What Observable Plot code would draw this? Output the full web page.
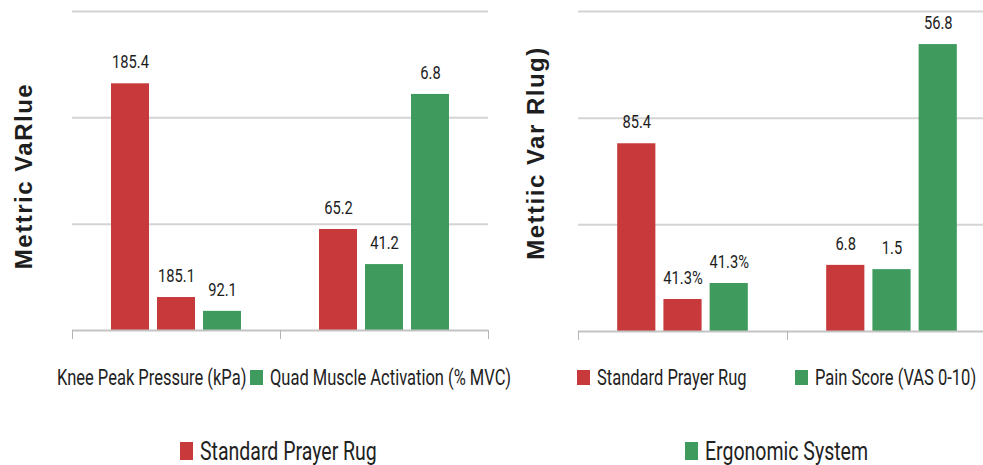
<!DOCTYPE html>
<html>
<head>
<meta charset="utf-8">
<script src="https://cdn.jsdelivr.net/npm/d3@7"></script>
<script src="https://cdn.jsdelivr.net/npm/@observablehq/plot@0.6"></script>
<style>
  html, body { margin: 0; padding: 0; background: #ffffff; overflow: hidden; }
  #root { position: relative; width: 983px; height: 465px; overflow: hidden; background: #ffffff; }
  .panel { position: absolute; top: 0; }
  .ytitle { position: absolute; font-family: "Liberation Sans", Arial, sans-serif; font-weight: bold;
            font-size: 24px; letter-spacing: 1.5px; color: #1e1e1e; white-space: nowrap;
            transform: translate(-50%, -50%) rotate(-90deg); }
  .leg { position: absolute; display: flex; align-items: center; white-space: nowrap;
         font-family: Roboto, "Liberation Sans", sans-serif; color: #222; }
  .sw { display: inline-block; margin-right: 7px; flex: none; }
  .lt { display: inline-block; transform: scaleX(0.75); transform-origin: left center; }
</style>
</head>
<body>
<div id="root"></div>
<script>
// ---- data ----
const series = ["Standard Prayer Rug", "Ergonomic System"];
const seriesColors = ["#c7393a", "#3e9a5d"];
const groupsLeft = ["Knee Peak Pressure (kPa)", "Quad Muscle Activation (% MVC)"];
const groupsRight = ["Standard Prayer Rug", "Pain Score (VAS 0-10)"];
const slots = [0, 1, 2];
const gridTicks = [100, 200, 300];

// left panel bars (heights, grid lines = 100, 200, 300)
const leftGroup  = [0, 0, 0, 1, 1, 1];
const leftSlot   = [0, 1, 2, 0, 1, 2];
const leftSeries = [0, 0, 1, 0, 1, 1];
const leftValues = [232, 31, 18, 95, 62, 222];
const leftLabels = ["185.4", "185.1", "92.1", "65.2", "41.2", "6.8"];

// right panel bars
const rightGroup  = [0, 0, 0, 1, 1, 1];
const rightSlot   = [0, 1, 2, 0, 1, 2];
const rightSeries = [0, 0, 1, 0, 1, 1];
const rightValues = [176, 30, 45, 62, 58, 269];
const rightLabels = ["85.4", "41.3%", "41.3%", "6.8", "1.5", "56.8"];

// titles and legends
const leftTitle = "Mettric VaRlue";
const rightTitle = "Mettiic Var Rlug)";
const legendRow1 = [
  {text: "Knee Peak Pressure (kPa)", color: null},
  {text: "Quad Muscle Activation (% MVC)", color: 1},
  {text: "Standard Prayer Rug", color: 0},
  {text: "Pain Score (VAS 0-10)", color: 1}
];
const legendRow2 = [
  {text: "Standard Prayer Rug", color: 0},
  {text: "Ergonomic System", color: 1}
];

// ---- layout/style ----
const labelFont = 'Roboto, "Liberation Sans", sans-serif';
const labelCondense = 0.84;
const padIn = 8 / 46, padOut = 0.848;

function rows(groupNames, g, s, ser, v, lab) {
  return v.map((val, i) => ({group: groupNames[g[i]], slot: s[i], series: series[ser[i]], value: val, label: lab[i]}));
}

function panel(groupNames, data, opts) {
  const facetW = (opts.width - opts.marginLeft - opts.marginRight) / groupNames.length;
  const step = facetW / (slots.length - padIn + 2 * padOut);
  const edgeOffset = padOut * step + step * (1 - padIn) / 2;
  return Plot.plot({
    width: opts.width, height: opts.height,
    marginLeft: opts.marginLeft, marginRight: opts.marginRight,
    marginTop: opts.marginTop, marginBottom: opts.marginBottom,
    style: {background: "transparent", overflow: "visible"},
    fx: {domain: groupNames, padding: 0, axis: null, round: false},
    x: {domain: slots, paddingInner: padIn, paddingOuter: padOut, axis: null, round: false},
    y: {domain: [0, 300], axis: null},
    color: {domain: series, range: seriesColors},
    marks: [
      Plot.ruleY(gridTicks, {stroke: "#d4d4d4", strokeWidth: 2}),
      Plot.barY(data, {fx: "group", x: "slot", y: "value", fill: "series"}),
      Plot.ruleY([0], {stroke: "#c4c4c4", strokeWidth: 2}),
      Plot.ruleX(groupNames, {fx: d => d, x: () => slots[0], y1: () => 0, y2: () => 0,
        insetBottom: -9, dx: -edgeOffset, stroke: "#b5b5b5", strokeWidth: 1}),
      Plot.ruleX(groupNames.slice(-1), {fx: d => d, x: () => slots[slots.length - 1], y1: () => 0, y2: () => 0,
        insetBottom: -9, dx: edgeOffset, stroke: "#b5b5b5", strokeWidth: 1}),
      Plot.text(data, {fx: "group", x: "slot", y: "value", text: "label", dy: -21,
        fontSize: 17.5, fontFamily: labelFont, fill: "#1c1c1c", className: "vlabel"})
    ]
  });
}

function condense(svg) {
  svg.querySelectorAll(".vlabel text").forEach(t => {
    const w = t.getComputedTextLength();
    t.setAttribute("textLength", (w * labelCondense).toFixed(2));
    t.setAttribute("lengthAdjust", "spacingAndGlyphs");
  });
}

const root = document.getElementById("root");

const leftData = rows(groupsLeft, leftGroup, leftSlot, leftSeries, leftValues, leftLabels);
const rightData = rows(groupsRight, rightGroup, rightSlot, rightSeries, rightValues, rightLabels);

const left = panel(groupsLeft, leftData, {width: 500, height: 345, marginLeft: 72, marginRight: 12, marginTop: 11, marginBottom: 15});
left.classList.add("panel"); left.style.left = "0px";
root.appendChild(left);
condense(left);

const right = panel(groupsRight, rightData, {width: 506, height: 346, marginLeft: 88, marginRight: 0, marginTop: 11, marginBottom: 15});
right.classList.add("panel"); right.style.left = "490px";
root.appendChild(right);
condense(right);

function title(text, cx, cy) {
  const d = document.createElement("div");
  d.className = "ytitle";
  d.textContent = text;
  d.style.left = cx + "px"; d.style.top = cy + "px";
  root.appendChild(d);
}
title(leftTitle, 24, 176);
title(rightTitle, 536, 153);

function legendItem(item, x, cy, fontSize, swW, swH) {
  const d = document.createElement("div");
  d.className = "leg";
  d.style.left = x + "px";
  d.style.top = (cy - 16) + "px";
  d.style.height = "32px";
  d.style.fontSize = fontSize + "px";
  if (item.color !== null) {
    const s = document.createElement("span");
    s.className = "sw";
    s.style.width = swW + "px"; s.style.height = swH + "px";
    s.style.background = seriesColors[item.color];
    d.appendChild(s);
  }
  const t = document.createElement("span");
  t.className = "lt";
  t.textContent = item.text;
  d.appendChild(t);
  root.appendChild(d);
}
const row1X = [57, 250, 577, 795];
legendRow1.forEach((it, i) => legendItem(it, row1X[i], 377, 22, 13, 15));
const row2X = [180, 685];
legendRow2.forEach((it, i) => legendItem(it, row2X[i], 451, 26, 13, 18));
</script>
</body>
</html>
